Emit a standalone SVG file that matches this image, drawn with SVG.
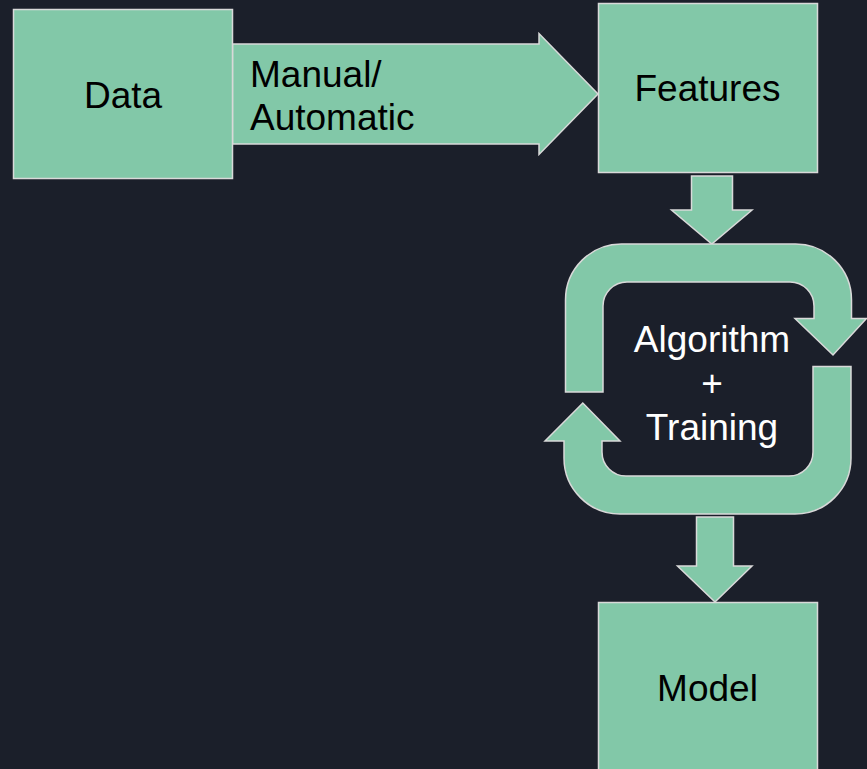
<svg xmlns="http://www.w3.org/2000/svg" width="867" height="769" viewBox="0 0 867 769">
  <style>
    .shape { fill: #82c8a8; stroke: #d9d9d9; stroke-width: 1.5; stroke-linejoin: miter; }
    .label { font-family: "Liberation Sans", Arial, sans-serif; font-size: 37px; fill: #000000; }
    .light { fill: #ffffff; }
    .mid { text-anchor: middle; }
  </style>
  <rect width="867" height="769" fill="#1b1f2a"/>

  <g id="connectors">
    <!-- Data to Features block arrow, carrying its label -->
    <g id="arrow-manual">
      <path class="shape" d="M232.5,44 L539,44 L539,33.5 L598,94 L539,154.5 L539,144 L232.5,144 Z"/>
      <text class="label" x="250" y="86.7">Manual/</text>
      <text class="label" x="250" y="130">Automatic</text>
    </g>
    <!-- Features down into the training loop -->
    <path id="arrow-down-1" class="shape" d="M691.5,176 L732.5,176 L732.5,210 L752,210 L711.8,244 L671.5,210 L691.5,210 Z"/>
    <!-- Training loop down to Model -->
    <path id="arrow-down-2" class="shape" d="M696.5,517 L733.5,517 L733.5,566 L752,566 L715,602 L677.5,566 L696.5,566 Z"/>
  </g>

  <g id="data">
    <rect class="shape" x="13.5" y="9.5" width="219" height="169"/>
    <text class="label mid" x="123" y="108.3">Data</text>
  </g>

  <g id="features">
    <rect class="shape" x="598.5" y="3.5" width="219" height="169"/>
    <text class="label mid" x="707.5" y="100.7">Features</text>
  </g>

  <g id="training">
    <!-- upper bent arrow, pointing down on the right -->
    <path class="shape" d="M565.5,392 L565.5,300 A56,56 0 0 1 621.5,244 L795.5,244 A56,56 0 0 1 851.5,300 L851.5,318.5 L866.5,318.5 L833,355 L795,318.5 L814,318.5 L814,306 A24,24 0 0 0 790,282 L627,282 A24,24 0 0 0 603,306 L603,392 Z"/>
    <!-- lower bent arrow, pointing up on the left -->
    <path class="shape" d="M851,366.5 L851,458 A56,56 0 0 1 795,514 L620,514 A56,56 0 0 1 564,458 L564,441 L545,441 L582.8,403 L620,441 L602,441 L602,452 A24,24 0 0 0 626,476 L789,476 A24,24 0 0 0 813,452 L813,366.5 Z"/>
    <text class="label light mid" x="712" y="351.7">Algorithm</text>
    <text class="label light mid" x="712" y="395.9">+</text>
    <text class="label light mid" x="712" y="440">Training</text>
  </g>

  <g id="model">
    <rect class="shape" x="598.5" y="602.5" width="219" height="169"/>
    <text class="label mid" x="707.5" y="701">Model</text>
  </g>
</svg>
